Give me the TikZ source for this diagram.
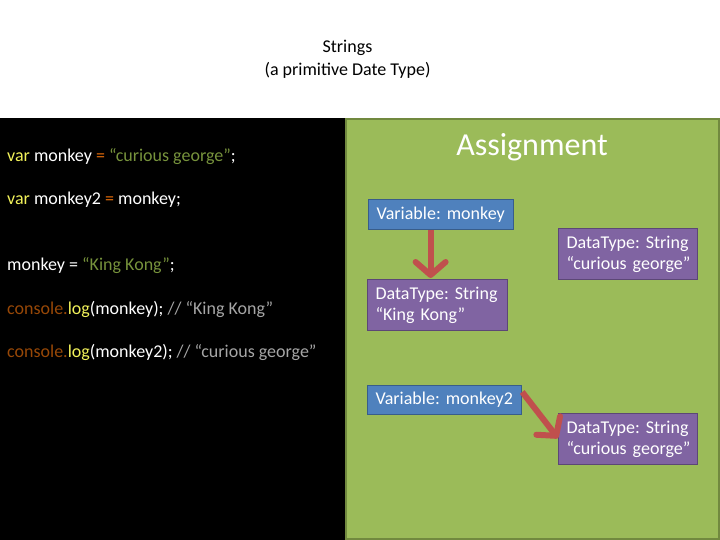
\documentclass[tikz,border=0pt]{standalone}
\usepackage{fontspec}
\setmainfont{Carlito}
\usetikzlibrary{arrows.meta}
\definecolor{panelgreen}{HTML}{9BBB59}
\definecolor{panelgreenline}{HTML}{71893F}
\definecolor{varblue}{HTML}{4F81BD}
\definecolor{varblueline}{HTML}{385D8A}
\definecolor{typepurple}{HTML}{8064A2}
\definecolor{typepurpleline}{HTML}{5C4776}
\definecolor{ptrred}{HTML}{C0504D}
\definecolor{kwyellow}{HTML}{F2F25A}
\definecolor{opcolor}{HTML}{E46C0A}
\definecolor{strgreen}{HTML}{77933C}
\definecolor{objbrown}{HTML}{984807}
\definecolor{cmtgray}{HTML}{A6A6A6}
\frenchspacing
\tikzset{
  codeline/.style={anchor=west, inner sep=0pt, text=white, font=\fontsize{18}{22}\selectfont},
  varbox/.style={draw=varblueline, line width=1.2pt, fill=varblue, text=white, anchor=north west,
    inner xsep=8pt, inner ysep=0pt, font=\fontsize{18}{21}\selectfont},
  typebox/.style={draw=typepurpleline, line width=1.2pt, fill=typepurple, text=white, anchor=north west,
    inner xsep=8pt, inner ysep=0pt, font=\fontsize{18}{21}\selectfont, align=left},
  pointer/.style={draw=ptrred, line width=6pt,
    -{Straight Barb[length=13pt, width=30pt, line cap=round, line join=round]}},
}
\newcommand{\kw}[1]{\textcolor{kwyellow}{#1}}
\newcommand{\opr}[1]{\textcolor{opcolor}{#1}}
\newcommand{\strlit}[1]{\textcolor{strgreen}{#1}}
\newcommand{\obj}[1]{\textcolor{objbrown}{#1}}
\newcommand{\cmt}[1]{\textcolor{cmtgray}{#1}}
\begin{document}
\begin{tikzpicture}[x=1pt, y=-1pt]
  \useasboundingbox (0,0) rectangle (720,540);
  \fill[white] (0,0) rectangle (720,540);

  % heading
  \node[font=\fontsize{18}{22}\selectfont] (title) at (347.5,48) {Strings};
  \node[font=\fontsize{18}{22}\selectfont] (subtitle) at (347.5,70) {(a primitive Date Type)};

  % code panel
  \fill[black] (0,118) rectangle (345,540);
  \node[codeline] (l1) at (7,157) {\kw{var} monkey \opr{=} \strlit{“curious george”};};
  \node[codeline] (l2) at (7,200) {\kw{var} monkey2 \opr{=} monkey;};
  \node[codeline] (l3) at (7,266) {monkey = \strlit{“King Kong”};};
  \node[codeline] (l4) at (7,309) {\obj{console.}\kw{log}(monkey); \cmt{// “King Kong”}};
  \node[codeline] (l5) at (7,352) {\obj{console.}\kw{log}(monkey2); \cmt{// “curious george”}};

  % assignment panel
  \filldraw[fill=panelgreen, draw=panelgreenline, line width=2pt] (346,119) rectangle (719,539);
  \node[text=white, font=\fontsize{32}{38}\selectfont] (head) at (532,147) {Assignment};

  \node[varbox, minimum width=145pt, minimum height=30pt, text width=129pt] (v1) at (368,199)
    {Variable: monkey};
  \node[typebox, minimum width=139pt, minimum height=51pt, text width=123pt] (t1) at (558,228)
    {\mbox{DataType: String}\\\mbox{“curious george”}};
  \node[typebox, minimum width=140pt, minimum height=51pt, text width=124pt] (t2) at (367,279)
    {\mbox{DataType: String}\\\mbox{“King Kong”}};
  \node[varbox, minimum width=154pt, minimum height=29pt, text width=138pt] (v2) at (367,385)
    {Variable: monkey2};
  \node[typebox, minimum width=139pt, minimum height=51pt, text width=123pt] (t3) at (558,413)
    {\mbox{DataType: String}\\\mbox{“curious george”}};

  % references from variables to values
  \coordinate (a1s) at ([xshift=-10.5pt]v1.south);
  \coordinate (a1e) at ([xshift=-7pt, yshift=1pt]t2.north);
  \draw[pointer] (a1s) -- (a1e);
  \coordinate (a2s) at ([yshift=-7pt]v2.north east);
  \coordinate (a2e) at ([yshift=27pt]t3.south west);
  \draw[pointer] (a2s) -- (a2e);
\end{tikzpicture}
\end{document}
